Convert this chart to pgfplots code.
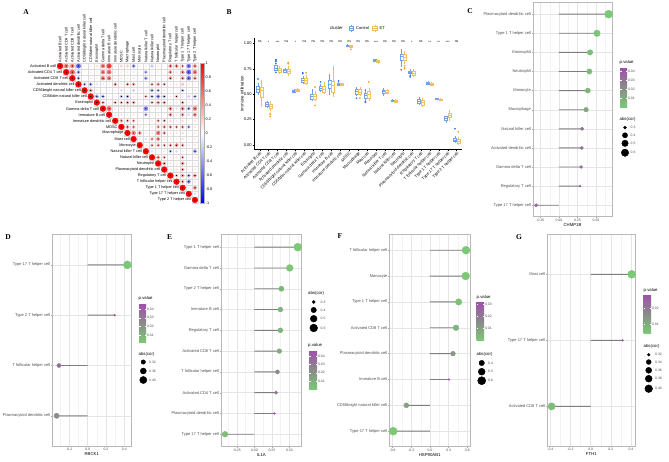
\documentclass[border=0pt]{standalone}
\usepackage{fontspec}
\setmainfont{Liberation Sans}
\newfontfamily\lserif{Liberation Serif}
\usepackage{pgfplots}
\usepackage{pgfplotstable}
\pgfplotsset{compat=1.18}
\usepgfplotslibrary{statistics}

\definecolor{ctl}{RGB}{110,160,235}
\definecolor{ctlpt}{RGB}{45,110,245}
\definecolor{etl}{RGB}{242,190,100}
\definecolor{etpt}{RGB}{246,160,35}
\definecolor{segc}{RGB}{125,125,125}

\newcommand\fa{\fontsize{3.8}{4.2}\selectfont}
\newcommand\ft{\fontsize{4}{4.4}\selectfont}
\newcommand\fs{\fontsize{3.4}{3.8}\selectfont}
\newcommand\fb{\fontsize{4}{4.5}\selectfont}
\newcommand\fl{\fontsize{4.3}{4.8}\selectfont}
\newcommand\fp{\fontsize{7.5}{8}\selectfont\lserif\bfseries}

\pgfplotsset{every axis/.append style={/pgf/number format/assume math mode=true}}

\pgfplotsset{
 lolli/.style={scale only axis, anchor=north west, clip=false,
  axis line style={draw=black!28, line width=0.45pt},
  grid=both, major grid style={draw=black!10, line width=0.35pt},
  minor grid style={draw=black!5, line width=0.25pt},
  tick align=outside, major tick length=1.2pt, minor tick length=0pt,
  tick style={draw=black!35, line width=0.3pt},
  xtick pos=bottom, ytick pos=left, scaled x ticks=false,
  yticklabel style={font=\ft, text=black!70, inner sep=0.8pt},
  xticklabel style={font=\fs, text=black!70, inner sep=0.8pt},
  xlabel style={font=\fl, inner sep=0pt, yshift=-0.8pt},
  colormap={pg}{rgb255=(124,200,118) rgb255=(138,138,138) rgb255=(160,78,172)}},
 seg/.style={xbar, bar width=0.9pt, fill=segc, draw=none},
 dots/.style 2 args={scatter, only marks, mark=*, point meta=\thisrow{p},
  scatter/use mapped color={draw=mapped color, fill=mapped color},
  visualization depends on={0.9+3.1*sqrt(max(0,abs(\thisrow{c})-#1)/(#2-#1)) \as \msz},
  scatter/@pre marker code/.append style={/tikz/mark size=\msz pt}},
 lcb/.style n args={5}{colorbar, colorbar style={scale only axis, width=#1, height=#2,
  at={(parent axis.north east)}, anchor=north west, xshift=#3, yshift=#4, ytick={#5},
  scaled y ticks=false,
  yticklabel style={font=\fs, text=black!70, inner sep=0.8pt, /pgf/number format/fixed, /pgf/number format/precision=2, /pgf/number format/fixed zerofill},
  major tick length=1.5pt, tick align=inside, tick style={draw=white, line width=0.3pt},
  axis line style={draw=none}, yticklabel pos=right}},
 cb/.style={draw=ctl, fill=white, line width=0.35pt, mark=*, mark size=0.65pt, mark options={draw=ctlpt, fill=ctlpt}},
 eb/.style={draw=etl, fill=white, line width=0.35pt, mark=*, mark size=0.65pt, mark options={draw=etpt, fill=etpt}}
}

\newcommand\bx[8]{\addplot[#1, boxplot prepared={draw position=#2, lower whisker=#3, lower quartile=#4, median=#5, upper quartile=#6, upper whisker=#7}] coordinates {#8};}

\pgfplotstableread[row sep=\\]{
x y r\\
1 1 1\\ 2 1 0.55\\ 3 1 0.5\\ 4 1 -0.6\\ 5 1 0.05\\ 6 1 0.1\\ 7 1 0.15\\ 8 1 0.5\\ 9 1 0.7\\ 10 1 0.1\\ 11 1 0.2\\ 12 1 0.2\\ 13 1 -0.4\\ 14 1 0.1\\ 15 1 0.08\\ 16 1 -0.25\\ 17 1 0.1\\ 18 1 0.05\\ 19 1 0.45\\ 20 1 0.45\\ 21 1 0.3\\ 22 1 -0.5\\ 23 1 0.45\\
2 2 1\\ 3 2 0.65\\ 4 2 -0.4\\ 5 2 0.05\\ 6 2 0.08\\ 7 2 0.1\\ 8 2 0.5\\ 9 2 0.55\\ 10 2 0.1\\ 11 2 0.08\\ 12 2 0.1\\ 13 2 -0.1\\ 14 2 0.05\\ 15 2 -0.3\\ 16 2 0.08\\ 17 2 0.1\\ 18 2 0.05\\ 19 2 0.4\\ 20 2 0.12\\ 21 2 0.45\\ 22 2 -0.6\\ 23 2 0.5\\
3 3 1\\ 4 3 -0.35\\ 5 3 0.05\\ 6 3 0.1\\ 7 3 0.08\\ 8 3 0.5\\ 9 3 0.5\\ 10 3 0.1\\ 11 3 0.1\\ 12 3 0.08\\ 13 3 -0.1\\ 14 3 0.05\\ 15 3 -0.35\\ 16 3 0.1\\ 17 3 0.05\\ 18 3 0.08\\ 19 3 0.4\\ 20 3 0.1\\ 21 3 0.4\\ 22 3 -0.5\\ 23 3 0.4\\
4 4 1\\ 5 4 -0.3\\ 6 4 -0.35\\ 7 4 -0.12\\ 8 4 -0.1\\ 9 4 0.08\\ 10 4 0.35\\ 11 4 0.1\\ 12 4 0.35\\ 13 4 0.35\\ 14 4 0.1\\ 15 4 0.05\\ 16 4 0.3\\ 17 4 0.35\\ 18 4 0.3\\ 19 4 0.1\\ 20 4 0.12\\ 21 4 0.25\\ 22 4 0.1\\ 23 4 0.08\\
5 5 1\\ 6 5 0.4\\ 7 5 0.1\\ 8 5 0.05\\ 9 5 -0.08\\ 10 5 0.1\\ 11 5 -0.15\\ 12 5 0.05\\ 13 5 -0.2\\ 14 5 0.1\\ 15 5 0.05\\ 16 5 -0.35\\ 17 5 -0.3\\ 18 5 -0.1\\ 19 5 0.1\\ 20 5 0.05\\ 21 5 -0.3\\ 22 5 0.08\\ 23 5 -0.1\\
6 6 1\\ 7 6 -0.4\\ 8 6 -0.35\\ 9 6 0.05\\ 10 6 0.1\\ 11 6 -0.3\\ 12 6 -0.35\\ 13 6 0.1\\ 14 6 0.08\\ 15 6 0.3\\ 16 6 -0.3\\ 17 6 -0.45\\ 18 6 -0.3\\ 19 6 0.1\\ 20 6 0.3\\ 21 6 -0.1\\ 22 6 -0.2\\ 23 6 -0.3\\
7 7 1\\ 8 7 0.35\\ 9 7 0.1\\ 10 7 0.3\\ 11 7 0.3\\ 12 7 0.35\\ 13 7 0.35\\ 14 7 0.1\\ 15 7 0.08\\ 16 7 0.3\\ 17 7 0.4\\ 18 7 0.35\\ 19 7 0.1\\ 20 7 0.12\\ 21 7 0.35\\ 22 7 0.08\\ 23 7 0.1\\
8 8 1\\ 9 8 0.6\\ 10 8 0.1\\ 11 8 0.12\\ 12 8 0.1\\ 13 8 0.05\\ 14 8 0.1\\ 15 8 -0.5\\ 16 8 0.05\\ 17 8 0.1\\ 18 8 0.08\\ 19 8 0.45\\ 20 8 0.15\\ 21 8 0.45\\ 22 8 -0.35\\ 23 8 0.5\\
9 9 1\\ 10 9 0.1\\ 11 9 0.12\\ 12 9 0.08\\ 13 9 0.1\\ 14 9 0.05\\ 15 9 -0.3\\ 16 9 0.08\\ 17 9 0.1\\ 18 9 0.05\\ 19 9 0.4\\ 20 9 0.12\\ 21 9 0.35\\ 22 9 -0.15\\ 23 9 0.45\\
10 10 1\\ 11 10 0.35\\ 12 10 0.3\\ 13 10 0.3\\ 14 10 0.1\\ 15 10 0.05\\ 16 10 0.12\\ 17 10 0.3\\ 18 10 0.3\\ 19 10 0.15\\ 20 10 0.1\\ 21 10 0.15\\ 22 10 0.05\\ 23 10 0.12\\
11 11 1\\ 12 11 0.4\\ 13 11 0.35\\ 14 11 0.12\\ 15 11 0.08\\ 16 11 0.1\\ 17 11 0.3\\ 18 11 0.35\\ 19 11 0.35\\ 20 11 0.3\\ 21 11 0.35\\ 22 11 -0.3\\ 23 11 0.12\\
12 12 1\\ 13 12 0.5\\ 14 12 0.4\\ 15 12 0.1\\ 16 12 0.12\\ 17 12 0.5\\ 18 12 0.35\\ 19 12 0.1\\ 20 12 0.12\\ 21 12 0.15\\ 22 12 0.05\\ 23 12 0.1\\
13 13 1\\ 14 13 0.1\\ 15 13 -0.15\\ 16 13 0.3\\ 17 13 0.45\\ 18 13 0.12\\ 19 13 0.1\\ 20 13 0.08\\ 21 13 0.15\\ 22 13 0.05\\ 23 13 0.1\\
14 14 1\\ 15 14 0.1\\ 16 14 0.3\\ 17 14 0.35\\ 18 14 0.3\\ 19 14 0.35\\ 20 14 0.45\\ 21 14 0.35\\ 22 14 0.1\\ 23 14 0.12\\
15 15 1\\ 16 15 -0.12\\ 17 15 0.08\\ 18 15 0.1\\ 19 15 -0.3\\ 20 15 -0.15\\ 21 15 0.1\\ 22 15 0.05\\ 23 15 -0.4\\
16 16 1\\ 17 16 0.45\\ 18 16 0.3\\ 19 16 0.1\\ 20 16 0.12\\ 21 16 0.3\\ 22 16 0.08\\ 23 16 0.1\\
17 17 1\\ 18 17 0.4\\ 19 17 0.12\\ 20 17 0.1\\ 21 17 0.4\\ 22 17 0.08\\ 23 17 0.1\\
18 18 1\\ 19 18 0.1\\ 20 18 0.12\\ 21 18 0.35\\ 22 18 0.05\\ 23 18 0.1\\
19 19 1\\ 20 19 0.3\\ 21 19 0.4\\ 22 19 -0.35\\ 23 19 0.45\\
20 20 1\\ 21 20 0.35\\ 22 20 -0.45\\ 23 20 0.12\\
21 21 1\\ 22 21 0.1\\ 23 21 0.45\\
22 22 1\\ 23 22 -0.15\\
23 23 1\\
}\Acor

\pgfplotstableread{
k c p
1 -0.308 0.032
2 0.286 0.0444
3 0.300 0.036
4 0.308 0.032
5 0.3125 0.030
6 0.366 0.012
7 0.390 0.007
8 0.410 0.005
9 0.420 0.004
10 0.513 0.0006
11 0.670 0.00001
}\Cdat

\pgfplotstableread{
k c p
1 -0.338 0.022
2 -0.313 0.036
3 0.295 0.047
4 0.433 0.002
}\Ddat

\pgfplotstableread{
k c p
1 -0.419 0.004
2 0.286 0.048
3 0.310 0.032
4 0.330 0.022
5 0.357 0.012
6 0.371 0.009
7 0.371 0.009
8 0.386 0.007
9 0.505 0.0004
10 0.620 0.00001
}\Edat

\pgfplotstableread{
k c p
1 -0.590 0.00003
2 -0.380 0.010
3 0.305 0.032
4 0.370 0.012
5 0.418 0.005
6 0.460 0.002
7 0.573 0.0001
8 0.578 0.0001
}\Fdat

\pgfplotstableread{
k c p
1 -0.388 0.0065
2 0.318 0.0288
3 0.408 0.0044
}\Gdat

\pgfplotstableread{
x y v mn mx
625 -127.7 0.3 0.286 0.67
625 -135.3 0.4 0.286 0.67
625 -143.3 0.5 0.286 0.67
625 -152.7 0.6 0.286 0.67
143.3 -362 0.32 0.295 0.433
143.3 -371 0.36 0.295 0.433
143.3 -380 0.40 0.295 0.433
313.7 -302 0.3 0.286 0.62
313.7 -310 0.4 0.286 0.62
313.7 -318.7 0.5 0.286 0.62
313.7 -328 0.6 0.286 0.62
481.7 -363 0.4 0.305 0.59
481.7 -371.7 0.5 0.305 0.59
481.7 -380.7 0.6 0.305 0.59
648.7 -354.7 0.32 0.318 0.408
648.7 -362 0.34 0.318 0.408
648.7 -370.3 0.36 0.318 0.408
648.7 -378.7 0.38 0.318 0.408
648.7 -388.7 0.40 0.318 0.408
}\Lsz

\begin{document}
\begin{tikzpicture}
\useasboundingbox (0pt,0pt) rectangle (669pt,-461pt);

% ---------------- A ----------------
\begin{axis}[scale only axis, at={(57pt,-63pt)}, anchor=north west, width=141pt, height=140pt,
 xmin=0.5, xmax=23.5, ymin=0.5, ymax=23.5, y dir=reverse, clip=false,
 axis line style={draw=none}, major tick length=0pt,
 xtick={1,...,23}, xticklabel pos=upper,
 xticklabels={Activated B cell, Activated CD4 T cell, Activated CD8 T cell, Activated dendritic cell, CD56bright natural killer cell, CD56dim natural killer cell, Eosinophil, Gamma delta T cell, Immature B cell, Immature dendritic cell, MDSC, Macrophage, Mast cell, Monocyte, Natural killer T cell, Natural killer cell, Neutrophil, Plasmacytoid dendritic cell, Regulatory T cell, T follicular helper cell, Type 1 T helper cell, Type 17 T helper cell, Type 2 T helper cell},
 x tick label style={rotate=90, anchor=west, font=\fa, inner sep=0.5pt},
 ytick=\empty,
 colormap={bwr}{rgb255=(0,0,255) rgb255=(255,255,255) rgb255=(255,0,0)},
 point meta min=-1, point meta max=1,
 colorbar, colorbar style={scale only axis, width=4pt, height=140pt, y dir=normal,
  at={(parent axis.north east)}, anchor=north west, xshift=-6pt,
  ytick={-1,-0.8,-0.6,-0.4,-0.2,0,0.2,0.4,0.6,0.8,1},
  yticklabel style={font=\fa, inner sep=1pt}, major tick length=0pt,
  axis line style={draw=black!30, line width=0.2pt}}]
\addplot[only marks, mark=square, mark size=3.07pt, mark options={draw=black!14, line width=0.2pt, fill=none}] table[x=x,y=y]{\Acor};
\addplot[scatter, only marks, mark=*, point meta=\thisrow{r},
 scatter/use mapped color={draw=mapped color, fill=mapped color},
 visualization depends on={2.85*sqrt(abs(\thisrow{r})) \as \crad},
 scatter/@pre marker code/.append style={/tikz/mark size=\crad pt}] table[x=x,y=y]{\Acor};
\addplot[only marks, mark=asterisk, mark size=0.6pt, mark options={black, line width=0.2pt},
 y filter/.expression={abs(\thisrow{r})>=0.3 ? y : nan}] table[x=x,y=y]{\Acor};
\node[anchor=east, font=\fa, inner sep=0.4pt] at (axis cs:0.45,1) {Activated B cell};
\node[anchor=east, font=\fa, inner sep=0.4pt] at (axis cs:1.45,2) {Activated CD4 T cell};
\node[anchor=east, font=\fa, inner sep=0.4pt] at (axis cs:2.45,3) {Activated CD8 T cell};
\node[anchor=east, font=\fa, inner sep=0.4pt] at (axis cs:3.45,4) {Activated dendritic cell};
\node[anchor=east, font=\fa, inner sep=0.4pt] at (axis cs:4.45,5) {CD56bright natural killer cell};
\node[anchor=east, font=\fa, inner sep=0.4pt] at (axis cs:5.45,6) {CD56dim natural killer cell};
\node[anchor=east, font=\fa, inner sep=0.4pt] at (axis cs:6.45,7) {Eosinophil};
\node[anchor=east, font=\fa, inner sep=0.4pt] at (axis cs:7.45,8) {Gamma delta T cell};
\node[anchor=east, font=\fa, inner sep=0.4pt] at (axis cs:8.45,9) {Immature B cell};
\node[anchor=east, font=\fa, inner sep=0.4pt] at (axis cs:9.45,10) {Immature dendritic cell};
\node[anchor=east, font=\fa, inner sep=0.4pt] at (axis cs:10.45,11) {MDSC};
\node[anchor=east, font=\fa, inner sep=0.4pt] at (axis cs:11.45,12) {Macrophage};
\node[anchor=east, font=\fa, inner sep=0.4pt] at (axis cs:12.45,13) {Mast cell};
\node[anchor=east, font=\fa, inner sep=0.4pt] at (axis cs:13.45,14) {Monocyte};
\node[anchor=east, font=\fa, inner sep=0.4pt] at (axis cs:14.45,15) {Natural killer T cell};
\node[anchor=east, font=\fa, inner sep=0.4pt] at (axis cs:15.45,16) {Natural killer cell};
\node[anchor=east, font=\fa, inner sep=0.4pt] at (axis cs:16.45,17) {Neutrophil};
\node[anchor=east, font=\fa, inner sep=0.4pt] at (axis cs:17.45,18) {Plasmacytoid dendritic cell};
\node[anchor=east, font=\fa, inner sep=0.4pt] at (axis cs:18.45,19) {Regulatory T cell};
\node[anchor=east, font=\fa, inner sep=0.4pt] at (axis cs:19.45,20) {T follicular helper cell};
\node[anchor=east, font=\fa, inner sep=0.4pt] at (axis cs:20.45,21) {Type 1 T helper cell};
\node[anchor=east, font=\fa, inner sep=0.4pt] at (axis cs:21.45,22) {Type 17 T helper cell};
\node[anchor=east, font=\fa, inner sep=0.4pt] at (axis cs:22.45,23) {Type 2 T helper cell};
\end{axis}

% ---------------- B ----------------
\begin{axis}[scale only axis, at={(254.3pt,-38.2pt)}, anchor=north west, width=207.7pt, height=110.9pt,
 xmin=0.4, xmax=23.6, ymin=-0.04, ymax=1.05, clip=false,
 axis x line*=bottom, axis y line*=left, axis line style={-, line width=0.4pt},
 xtick={1,...,23},
 xticklabels={Activated B cell, Activated CD4 T cell, Activated CD8 T cell, Activated dendritic cell, CD56bright natural killer cell, CD56dim natural killer cell, Eosinophil, Gamma delta T cell, Immature  B cell, Immature dendritic cell, MDSC, Macrophage, Mast cell, Monocyte, Natural killer T cell, Natural killer cell, Neutrophil, Plasmacytoid dendritic cell, Regulatory T cell, T follicular helper cell, Type 1 T helper cell, Type 17 T helper cell, Type 2 T helper cell},
 x tick label style={rotate=45, anchor=north east, font=\fb, inner sep=0.6pt},
 ytick={0,0.25,0.5,0.75,1},
 yticklabel style={font=\fb, inner sep=1pt, /pgf/number format/fixed, /pgf/number format/precision=2, /pgf/number format/fixed zerofill},
 ylabel={Immune infiltration}, ylabel style={font=\fl, inner sep=0pt, yshift=-1pt},
 tick align=outside, major tick length=1.5pt, tick style={black, line width=0.3pt},
 boxplot/draw direction=y, boxplot/box extend=0.34, boxplot/whisker extend=0]
\bx{cb}{0.81}{0.49}{0.52}{0.55}{0.58}{0.61}{(0,0.65)}
\bx{eb}{1.19}{0.37}{0.47}{0.54}{0.57}{0.64}{}
\bx{cb}{1.81}{0.36}{0.38}{0.40}{0.42}{0.43}{}
\bx{eb}{2.19}{0.33}{0.36}{0.38}{0.40}{0.43}{(0,0.31) (0,0.28) (0,0.30)}
\bx{cb}{2.81}{0.73}{0.74}{0.76}{0.78}{0.79}{(0,0.80) (0,0.82) (0,0.84) (0,0.83) (0,0.715)}
\bx{eb}{3.19}{0.70}{0.72}{0.735}{0.76}{0.78}{}
\bx{cb}{3.81}{0.71}{0.72}{0.74}{0.75}{0.76}{}
\bx{eb}{4.19}{0.68}{0.71}{0.73}{0.75}{0.78}{(0,0.80) (0,0.81)}
\bx{cb}{4.81}{0.51}{0.52}{0.53}{0.54}{0.55}{}
\bx{eb}{5.19}{0.52}{0.53}{0.54}{0.55}{0.56}{}
\bx{cb}{5.81}{0.60}{0.62}{0.64}{0.66}{0.68}{(0,0.71) (0,0.70)}
\bx{eb}{6.19}{0.59}{0.61}{0.64}{0.66}{0.69}{(0,0.71)}
\bx{cb}{6.81}{0.43}{0.45}{0.48}{0.50}{0.55}{}
\bx{eb}{7.19}{0.43}{0.45}{0.48}{0.50}{0.53}{(0,0.57) (0,0.39)}
\bx{cb}{7.81}{0.52}{0.54}{0.56}{0.58}{0.60}{(0,0.62)}
\bx{eb}{8.19}{0.50}{0.52}{0.55}{0.58}{0.62}{}
\bx{cb}{8.81}{0.49}{0.56}{0.60}{0.64}{0.70}{}
\bx{eb}{9.19}{0.47}{0.52}{0.59}{0.63}{0.78}{}
\bx{cb}{9.81}{0.58}{0.59}{0.60}{0.61}{0.62}{(0,0.63)}
\bx{eb}{10.19}{0.585}{0.59}{0.60}{0.605}{0.61}{}
\bx{cb}{10.81}{0.97}{0.975}{0.98}{0.985}{0.99}{}
\bx{eb}{11.19}{0.955}{0.965}{0.97}{0.98}{0.985}{(0,0.94)}
\bx{cb}{11.81}{0.48}{0.50}{0.53}{0.55}{0.57}{(0,0.46)}
\bx{eb}{12.19}{0.48}{0.50}{0.52}{0.55}{0.57}{(0,0.46)}
\bx{cb}{12.81}{0.44}{0.46}{0.49}{0.51}{0.53}{(0,0.54) (0,0.42) (0,0.43)}
\bx{eb}{13.19}{0.43}{0.46}{0.50}{0.53}{0.56}{(0,0.62)}
\bx{cb}{13.81}{0.815}{0.825}{0.835}{0.84}{0.845}{}
\bx{eb}{14.19}{0.80}{0.81}{0.82}{0.83}{0.835}{}
\bx{cb}{14.81}{0.48}{0.51}{0.53}{0.54}{0.56}{}
\bx{eb}{15.19}{0.50}{0.51}{0.52}{0.54}{0.55}{}
\bx{cb}{15.81}{0.42}{0.43}{0.44}{0.445}{0.45}{}
\bx{eb}{16.19}{0.41}{0.42}{0.43}{0.44}{0.45}{}
\bx{cb}{16.81}{0.77}{0.83}{0.87}{0.89}{0.94}{(0,0.74)}
\bx{eb}{17.19}{0.80}{0.83}{0.86}{0.89}{0.92}{(0,0.78) (0,0.76) (0,0.75)}
\bx{cb}{17.81}{0.69}{0.71}{0.72}{0.73}{0.75}{(0,0.67) (0,0.68)}
\bx{eb}{18.19}{0.67}{0.69}{0.71}{0.73}{0.75}{}
\bx{cb}{18.81}{0.39}{0.41}{0.43}{0.45}{0.47}{}
\bx{eb}{19.19}{0.37}{0.39}{0.42}{0.44}{0.46}{}
\bx{cb}{19.81}{0.59}{0.60}{0.61}{0.62}{0.63}{}
\bx{eb}{20.19}{0.58}{0.59}{0.60}{0.61}{0.62}{}
\bx{cb}{20.81}{0.44}{0.45}{0.455}{0.46}{0.465}{}
\bx{eb}{21.19}{0.43}{0.44}{0.45}{0.455}{0.46}{}
\bx{cb}{21.81}{0.22}{0.24}{0.26}{0.28}{0.29}{}
\bx{eb}{22.19}{0.24}{0.27}{0.29}{0.31}{0.34}{}
\bx{cb}{22.81}{0.02}{0.04}{0.05}{0.07}{0.09}{(0,0.16)}
\bx{eb}{23.19}{0.00}{0.02}{0.04}{0.06}{0.08}{(0,0.13)}
\node[font=\fs] at (axis cs:1,1.012) {ns};
\node[font=\fs] at (axis cs:2,1.012) {*};
\node[font=\fs] at (axis cs:3,1.012) {***};
\node[font=\fs] at (axis cs:4,1.012) {ns};
\node[font=\fs] at (axis cs:5,1.012) {*};
\node[font=\fs] at (axis cs:6,1.012) {ns};
\node[font=\fs] at (axis cs:7,1.012) {ns};
\node[font=\fs] at (axis cs:8,1.012) {ns};
\node[font=\fs] at (axis cs:9,1.012) {ns};
\node[font=\fs] at (axis cs:10,1.012) {ns};
\node[font=\fs] at (axis cs:11,1.012) {ns};
\node[font=\fs] at (axis cs:12,1.012) {ns};
\node[font=\fs] at (axis cs:13,1.012) {ns};
\node[font=\fs] at (axis cs:14,1.012) {***};
\node[font=\fs] at (axis cs:15,1.012) {ns};
\node[font=\fs] at (axis cs:16,1.012) {ns};
\node[font=\fs] at (axis cs:17,1.012) {ns};
\node[font=\fs] at (axis cs:18,1.012) {*};
\node[font=\fs] at (axis cs:19,1.012) {ns};
\node[font=\fs] at (axis cs:20,1.012) {**};
\node[font=\fs] at (axis cs:21,1.012) {**};
\node[font=\fs] at (axis cs:22,1.012) {***};
\node[font=\fs] at (axis cs:23,1.012) {ns};
\end{axis}

% ---------------- C ----------------
\begin{axis}[lolli, at={(533pt,-2.7pt)}, width=79pt, height=214pt,
 xmin=-0.35, xmax=0.716, ymin=0.4, ymax=11.6,
 xtick={-0.25,0,0.25,0.5}, minor xtick={-0.125,0.125,0.375,0.625},
 xticklabel style={/pgf/number format/fixed, /pgf/number format/precision=2, /pgf/number format/fixed zerofill},
 ytick={1,...,11},
 yticklabels={Type 17 T helper cell, Regulatory T cell, Gamma delta T cell, Activated dendritic cell, Natural killer cell, Macrophage, Monocyte, Neutrophil, Eosinophil, Type 1 T helper cell, Plasmacytoid dendritic cell},
 xlabel={CHMP1B}, point meta min=0, point meta max=0.0444,
 lcb={7pt}{40pt}{-0.5pt}{-64.3pt}{0.01,0.02,0.03,0.04}]
\addplot[seg] table[x=c,y=k]{\Cdat};
\addplot[dots={0.286}{0.67}] table[x=c,y=k]{\Cdat};
\end{axis}

% ---------------- D ----------------
\begin{axis}[lolli, at={(52.3pt,-234.7pt)}, width=79pt, height=211.3pt,
 xmin=-0.385, xmax=0.476, ymin=0.4, ymax=4.6,
 xtick={-0.2,0,0.2,0.4}, minor xtick={-0.3,-0.1,0.1,0.3},
 xticklabel style={/pgf/number format/fixed, /pgf/number format/precision=1, /pgf/number format/fixed zerofill},
 ytick={1,...,4},
 yticklabels={Plasmacytoid dendritic cell, T follicular helper cell, Type 2 T helper cell, Type 17 T helper cell},
 xlabel={RBCK1}, point meta min=0.002, point meta max=0.047,
 lcb={7pt}{39pt}{-0.8pt}{-68.3pt}{0.01,0.02,0.03,0.04}]
\addplot[seg] table[x=c,y=k]{\Ddat};
\addplot[dots={0.295}{0.433}] table[x=c,y=k]{\Ddat};
\end{axis}

% ---------------- E ----------------
\begin{axis}[lolli, at={(221pt,-234.7pt)}, width=80.7pt, height=212pt,
 xmin=-0.476, xmax=0.676, ymin=0.4, ymax=10.6,
 xtick={-0.25,0,0.25,0.5}, minor xtick={-0.375,-0.125,0.125,0.375,0.625},
 xticklabel style={/pgf/number format/fixed, /pgf/number format/precision=2, /pgf/number format/fixed zerofill},
 ytick={1,...,10},
 yticklabels={Type 17 T helper cell, Plasmacytoid dendritic cell, Activated CD4 T cell, T follicular helper cell, Activated CD8 T cell, Regulatory T cell, Immature  B cell, Type 2 T helper cell, Gamma delta T cell, Type 1 T helper cell},
 xlabel={IL1A}, point meta min=0, point meta max=0.048,
 lcb={8pt}{39pt}{-1.2pt}{-115.3pt}{0.01,0.02,0.03,0.04}]
\addplot[seg] table[x=c,y=k]{\Edat};
\addplot[dots={0.286}{0.62}] table[x=c,y=k]{\Edat};
\end{axis}

% ---------------- F ----------------
\begin{axis}[lolli, at={(389.3pt,-234.7pt)}, width=80.7pt, height=212pt,
 xmin=-0.653, xmax=0.643, ymin=0.4, ymax=8.6,
 xtick={-0.6,-0.3,0,0.3,0.6}, minor xtick={-0.45,-0.15,0.15,0.45},
 xticklabel style={/pgf/number format/fixed, /pgf/number format/precision=1, /pgf/number format/fixed zerofill},
 ytick={1,...,8},
 yticklabels={Type 17 T helper cell, CD56bright natural killer cell, Immature  B cell, Plasmacytoid dendritic cell, Activated CD8 T cell, Type 1 T helper cell, Monocyte, T follicular helper cell},
 xlabel={HSP90AB1}, point meta min=0, point meta max=0.032,
 lcb={7.3pt}{39pt}{-1.8pt}{-67pt}{0.01,0.02,0.03}]
\addplot[seg] table[x=c,y=k]{\Fdat};
\addplot[dots={0.305}{0.59}] table[x=c,y=k]{\Fdat};
\end{axis}

% ---------------- G ----------------
\begin{axis}[lolli, at={(547.3pt,-234.7pt)}, width=88pt, height=211.3pt,
 xmin=-0.431, xmax=0.444, ymin=0.4, ymax=3.6,
 xtick={-0.4,-0.2,0,0.2,0.4}, minor xtick={-0.3,-0.1,0.1,0.3},
 xticklabel style={/pgf/number format/fixed, /pgf/number format/precision=1, /pgf/number format/fixed zerofill},
 ytick={1,...,3},
 yticklabels={Activated CD8 T cell, Type 17 T helper cell, Mast cell},
 xlabel={FTH1}, point meta min=0.0044, point meta max=0.0288,
 lcb={7.3pt}{39pt}{-0.1pt}{-59.3pt}{0.01,0.02}]
\addplot[seg] table[x=c,y=k]{\Gdat};
\addplot[dots={0.318}{0.408}] table[x=c,y=k]{\Gdat};
\end{axis}

% ------------- size legends -------------
\begin{axis}[hide axis, scale only axis, at={(0pt,0pt)}, anchor=north west, width=669pt, height=461pt,
 xmin=0, xmax=669, ymin=-461, ymax=0, clip=false]
\addplot[scatter, only marks, mark=*, point meta=\thisrow{v},
 scatter/use mapped color={draw=black, fill=black},
 visualization depends on={0.9+3.1*sqrt(max(0,\thisrow{v}-\thisrow{mn})/(\thisrow{mx}-\thisrow{mn})) \as \lsz},
 scatter/@pre marker code/.append style={/tikz/mark size=\lsz pt}] table[x=x,y=y]{\Lsz};
\end{axis}

% legend texts
\begin{scope}[every node/.style={inner sep=0pt}]
\node[anchor=west, font=\fl] at (619.5pt,-62pt) {p.value};
\node[anchor=west, font=\fl] at (619.5pt,-119pt) {abs(cor)};
\node[anchor=west, font=\fs, text=black!70] at (630.5pt,-127.7pt) {0.3};
\node[anchor=west, font=\fs, text=black!70] at (630.5pt,-135.3pt) {0.4};
\node[anchor=west, font=\fs, text=black!70] at (630.5pt,-143.3pt) {0.5};
\node[anchor=west, font=\fs, text=black!70] at (630.5pt,-152.7pt) {0.6};

\node[anchor=west, font=\fl] at (138.5pt,-298pt) {p.value};
\node[anchor=west, font=\fl] at (138.5pt,-354pt) {abs(cor)};
\node[anchor=west, font=\fs, text=black!70] at (149pt,-362pt) {0.32};
\node[anchor=west, font=\fs, text=black!70] at (149pt,-371pt) {0.36};
\node[anchor=west, font=\fs, text=black!70] at (149pt,-380pt) {0.40};

\node[anchor=west, font=\fl] at (308pt,-293pt) {abs(cor)};
\node[anchor=west, font=\fs, text=black!70] at (320.5pt,-302pt) {0.3};
\node[anchor=west, font=\fs, text=black!70] at (320.5pt,-310pt) {0.4};
\node[anchor=west, font=\fs, text=black!70] at (320.5pt,-318.7pt) {0.5};
\node[anchor=west, font=\fs, text=black!70] at (320.5pt,-328pt) {0.6};
\node[anchor=west, font=\fl] at (308pt,-345pt) {p.value};

\node[anchor=west, font=\fl] at (476.5pt,-297.7pt) {p.value};
\node[anchor=west, font=\fl] at (476.5pt,-354pt) {abs(cor)};
\node[anchor=west, font=\fs, text=black!70] at (488pt,-363pt) {0.4};
\node[anchor=west, font=\fs, text=black!70] at (488pt,-371.7pt) {0.5};
\node[anchor=west, font=\fs, text=black!70] at (488pt,-380.7pt) {0.6};

\node[anchor=west, font=\fl] at (643.5pt,-290pt) {p.value};
\node[anchor=west, font=\fl] at (643.5pt,-346pt) {abs(cor)};
\node[anchor=west, font=\fs, text=black!70] at (655pt,-354.7pt) {0.32};
\node[anchor=west, font=\fs, text=black!70] at (655pt,-362pt) {0.34};
\node[anchor=west, font=\fs, text=black!70] at (655pt,-370.3pt) {0.36};
\node[anchor=west, font=\fs, text=black!70] at (655pt,-378.7pt) {0.38};
\node[anchor=west, font=\fs, text=black!70] at (655pt,-388.7pt) {0.40};

% B legend
\node[anchor=west, font=\fl] at (330pt,-28.3pt) {cluster};
\draw[ctl, line width=0.35pt] (351.3pt,-24.8pt) -- (351.3pt,-31.8pt);
\draw[ctl, line width=0.35pt, fill=white] (349pt,-26.3pt) rectangle (353.6pt,-30.3pt);
\draw[ctl, line width=0.35pt] (349pt,-28.3pt) -- (353.6pt,-28.3pt);
\node[anchor=west, font=\fb] at (356pt,-28.3pt) {Control};
\draw[etl, line width=0.35pt] (374.8pt,-24.8pt) -- (374.8pt,-31.8pt);
\draw[etl, line width=0.35pt, fill=white] (372.5pt,-26.3pt) rectangle (377.1pt,-30.3pt);
\draw[etl, line width=0.35pt] (372.5pt,-28.3pt) -- (377.1pt,-28.3pt);
\node[anchor=west, font=\fb] at (379.5pt,-28.3pt) {ET};

% panel letters
\node[font=\fp] at (26pt,-12.3pt) {A};
\node[font=\fp] at (229pt,-12.3pt) {B};
\node[font=\fp] at (470pt,-11pt) {C};
\node[font=\fp] at (8pt,-237.3pt) {D};
\node[font=\fp] at (169.5pt,-237.3pt) {E};
\node[font=\fp] at (340pt,-236pt) {F};
\node[font=\fp] at (519pt,-237.3pt) {G};
\end{scope}
\end{tikzpicture}
\end{document}
